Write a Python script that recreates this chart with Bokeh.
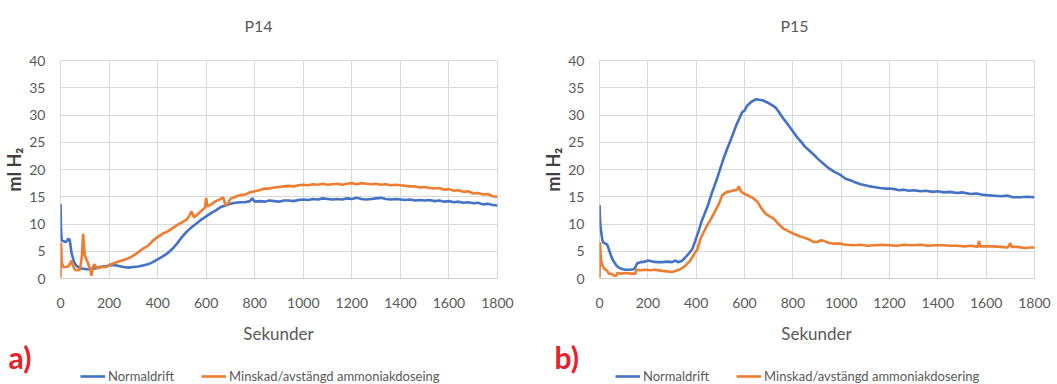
from bokeh.plotting import figure
from bokeh.models import Range1d, FixedTicker, Legend, LegendItem, Label
from bokeh.layouts import row, column
from bokeh.embed import file_html
from bokeh.resources import INLINE

# ---------------- data ----------------
x_ticks = [0, 200, 400, 600, 800, 1000, 1200, 1400, 1600, 1800]
y_ticks = [0, 5, 10, 15, 20, 25, 30, 35, 40]

series_names = ["Normaldrift", "Minskad/avstängd ammoniakdoseing", "Minskad/avstängd ammoniakdosering"]
panel_titles = ["P14", "P15"]
panel_tags = ["a)", "b)"]
x_title = "Sekunder"
y_title = "ml H\u2082"

# P14 - Normaldrift
p14_t_norm = [0, 2, 5, 10, 18, 25, 32, 38, 45, 55, 66, 80, 93, 108, 121, 135, 148, 160, 175, 190,
              200, 220, 240, 260, 280, 300, 320, 340, 360, 380, 400, 420, 440, 460, 480, 500, 520, 540, 560, 580,
              600, 620, 640, 660, 680, 700, 720, 740, 760, 780, 790,
              800, 820, 840, 860, 880, 900, 920, 940, 960, 980, 1000, 1020, 1040, 1060, 1080, 1100, 1120, 1140,
              1160, 1180, 1200, 1220, 1240, 1260, 1280, 1300, 1320, 1340, 1360, 1380, 1400, 1420, 1440, 1460,
              1480, 1500, 1520, 1540, 1560, 1580, 1600, 1620, 1640, 1660, 1680, 1700, 1720, 1740, 1760, 1780, 1800]
p14_v_norm = [13.7, 9.0, 7.0, 6.9, 6.7, 6.8, 7.3, 7.1, 4.8, 3.1, 2.3, 1.9, 1.8, 1.7, 1.7, 1.8, 1.9, 2.1, 2.2, 2.3,
              2.4, 2.5, 2.3, 2.1, 2.0, 2.1, 2.2, 2.4, 2.6, 3.0, 3.5, 4.0, 4.6, 5.4, 6.4, 7.6, 8.6, 9.4, 10.1, 10.8,
              11.4, 12.0, 12.5, 13.1, 13.4, 13.7, 13.9, 14.0, 14.0, 14.2, 14.7,
              14.1, 14.2, 14.1, 14.3, 14.2, 14.1, 14.3, 14.3, 14.2, 14.4, 14.5, 14.4, 14.6, 14.5, 14.7, 14.6, 14.5, 14.6,
              14.5, 14.7, 14.6, 14.8, 14.6, 14.5, 14.6, 14.7, 14.8, 14.6, 14.5, 14.6, 14.5, 14.4, 14.5, 14.3,
              14.4, 14.3, 14.4, 14.2, 14.3, 14.1, 14.2, 14.0, 14.1, 13.9, 14.0, 13.8, 13.9, 13.6, 13.7, 13.5, 13.4]

# P14 - Minskad/avstängd ammoniakdosering
p14_t_mins = [0, 2, 5, 11, 20, 32, 40, 45, 50, 59, 70, 80, 88, 93, 97, 100, 108, 115, 122, 128, 134, 140, 148, 155, 170, 190,
              200, 220, 240, 260, 280, 300, 320, 340, 360, 380, 400, 420, 440, 460, 480, 500, 520, 530, 540, 550, 560,
              580, 595, 600, 605, 620, 640, 660, 670, 680, 690, 700, 720, 740, 760, 780,
              800, 820, 840, 860, 880, 900, 920, 940, 960, 980, 1000, 1020, 1040, 1060, 1080, 1100, 1120, 1140,
              1160, 1180, 1200, 1220, 1240, 1260, 1280, 1300, 1320, 1340, 1360, 1380, 1400, 1420, 1440, 1460,
              1480, 1500, 1520, 1540, 1560, 1580, 1600, 1620, 1640, 1660, 1680, 1700, 1720, 1740, 1760, 1780, 1800]
p14_v_mins = [0.2, 6.6, 3.0, 2.1, 2.1, 2.2, 2.8, 3.3, 2.5, 1.6, 1.5, 1.6, 4.0, 8.2, 6.0, 4.2, 3.4, 2.6, 1.6, 0.5, 2.2, 2.6, 2.0, 1.9, 2.1, 2.1,
              2.5, 2.8, 3.1, 3.4, 3.7, 4.2, 4.8, 5.5, 6.0, 6.9, 7.6, 8.2, 8.6, 9.2, 9.8, 10.3, 10.8, 11.5, 12.3, 11.2, 11.6,
              12.4, 13.0, 14.8, 13.2, 13.6, 14.2, 14.6, 14.9, 13.4, 13.8, 14.6, 15.0, 15.3, 15.4, 15.8,
              16.0, 16.2, 16.5, 16.5, 16.7, 16.8, 16.9, 17.0, 16.9, 17.1, 17.2, 17.1, 17.3, 17.2, 17.4, 17.2, 17.3, 17.4,
              17.2, 17.4, 17.5, 17.3, 17.5, 17.4, 17.3, 17.4, 17.2, 17.3, 17.1, 17.2, 17.1, 17.0, 16.9, 16.9,
              16.7, 16.8, 16.6, 16.5, 16.6, 16.3, 16.4, 16.1, 16.2, 15.9, 16.0, 15.6, 15.7, 15.4, 15.5, 15.1, 15.0]

# P15 - Normaldrift
p15_t_norm = [0, 3, 8, 12, 18, 25, 32, 40, 46, 52, 59, 70, 80, 95, 108, 125, 142, 150, 156, 170,
              190, 200, 220, 240, 260, 280, 300, 315, 325, 340, 356, 370, 384, 397, 410, 425, 446, 465, 487, 500,
              514, 530, 549, 565, 583, 590, 600, 611, 625, 639, 650, 660, 675, 694, 710, 728, 740, 749, 765, 784,
              800, 816, 832, 850, 870, 887, 905, 928, 950, 970, 997, 1018, 1040, 1060, 1080, 1100, 1120, 1135, 1160, 1180,
              1200, 1221, 1240, 1260, 1280, 1300, 1330, 1350, 1380, 1400, 1425, 1450, 1480, 1500, 1535, 1560, 1580, 1600,
              1629, 1660, 1690, 1710, 1740, 1770, 1800]
p15_v_norm = [13.5, 10.0, 8.2, 7.0, 6.5, 6.4, 6.2, 5.2, 4.4, 3.7, 3.1, 2.4, 2.0, 1.7, 1.6, 1.6, 1.7, 2.2, 2.8, 3.0,
              3.1, 3.3, 3.1, 3.0, 3.0, 3.1, 3.0, 3.3, 3.0, 3.2, 3.9, 4.6, 5.4, 7.0, 8.7, 10.8, 13.1, 15.7, 18.4, 20.2,
              22.1, 24.0, 26.1, 28.0, 29.8, 30.5, 30.8, 31.7, 32.3, 32.7, 32.9, 32.8, 32.7, 32.3, 31.9, 31.4, 30.7, 30.1, 29.1, 28.0,
              27.0, 26.0, 25.2, 24.2, 23.4, 22.7, 21.9, 21.0, 20.2, 19.6, 19.0, 18.3, 18.0, 17.6, 17.3, 17.1, 16.9, 16.8, 16.6, 16.5,
              16.5, 16.4, 16.2, 16.3, 16.1, 16.2, 16.0, 16.1, 15.9, 16.0, 15.8, 15.9, 15.7, 15.8, 15.5, 15.6, 15.4, 15.3,
              15.2, 15.1, 15.2, 14.9, 14.9, 15.0, 14.9]

# P15 - Minskad/avstängd ammoniakdosering
p15_t_mins = [0, 2, 5, 8, 12, 18, 25, 32, 39, 53, 60, 70, 73, 90, 110, 130, 149, 152, 170, 190,
              210, 230, 259, 280, 301, 315, 329, 345, 356, 370, 384, 397, 404, 418, 430, 446, 462, 480, 495, 508,
              528, 545, 556, 570, 577, 585, 597, 612, 625, 640, 653, 670, 687, 704, 721, 740, 763, 785, 804, 825,
              846, 870, 885, 901, 915, 928, 950, 970, 997, 1018, 1050, 1080, 1110, 1140, 1170, 1200, 1230, 1260, 1290, 1330,
              1360, 1390, 1425, 1450, 1480, 1510, 1540, 1565, 1570, 1575, 1600, 1629, 1660, 1690, 1700, 1705, 1730, 1760, 1780, 1800]
p15_v_mins = [0.2, 6.7, 4.0, 3.0, 2.4, 1.9, 1.6, 1.4, 0.9, 0.8, 0.5, 0.5, 1.0, 0.9, 1.0, 0.9, 0.9, 1.6, 1.5, 1.6,
              1.5, 1.6, 1.4, 1.3, 1.2, 1.4, 1.6, 2.0, 2.4, 3.0, 3.9, 4.9, 5.2, 7.3, 8.4, 9.8, 11.0, 12.5, 13.8, 15.3,
              15.9, 16.0, 16.2, 16.3, 16.9, 16.0, 15.6, 15.3, 15.0, 14.6, 14.1, 12.9, 11.9, 11.4, 11.0, 10.0, 9.1, 8.6, 8.2, 7.8,
              7.5, 7.1, 6.7, 6.7, 7.0, 6.9, 6.5, 6.4, 6.4, 6.2, 6.1, 6.2, 6.0, 6.1, 6.2, 6.1, 6.0, 6.2, 6.1, 6.2,
              6.0, 6.1, 6.1, 6.0, 6.0, 5.9, 6.0, 5.8, 6.9, 5.9, 5.9, 5.9, 5.8, 5.7, 6.5, 5.8, 5.8, 5.6, 5.7, 5.7]

# ---------------- style ----------------
FONT = "Lato"
BLUE = "#4472c4"
ORANGE = "#ed7d31"
GRID = "#d9d9d9"
TXT = "#595959"
RED = "#e6212b"
W_TOTAL = 1057
H_HEAD = 44
H_MAIN = 272
H_FOOT = 68
NAN = float("nan")


def strip(height):
    f = figure(width=W_TOTAL, height=height, x_range=Range1d(0, W_TOTAL), y_range=Range1d(0, height),
               output_backend="svg", toolbar_location=None, x_axis_type=None, y_axis_type=None,
               min_border=0, min_border_left=0, min_border_right=0, min_border_top=0, min_border_bottom=0)
    f.outline_line_color = None
    f.background_fill_color = "white"
    f.border_fill_color = "white"
    return f


def make_panel(t1, v1, t2, v2, width, bl, br):
    p = figure(width=width, height=H_MAIN, x_range=Range1d(0, 1800), y_range=Range1d(0, 40),
               output_backend="svg", toolbar_location=None,
               min_border_left=bl, min_border_right=br, min_border_top=16, min_border_bottom=38)
    p.outline_line_color = GRID
    p.background_fill_color = "white"
    p.border_fill_color = "white"

    p.xaxis.ticker = FixedTicker(ticks=x_ticks)
    p.yaxis.ticker = FixedTicker(ticks=y_ticks)
    p.xgrid.grid_line_color = GRID
    p.ygrid.grid_line_color = GRID

    for ax in (p.xaxis[0], p.yaxis[0]):
        ax.major_tick_in = 0
        ax.major_tick_out = 0
        ax.minor_tick_in = 0
        ax.minor_tick_out = 0
        ax.major_label_text_font = FONT
        ax.major_label_text_font_size = "14px"
        ax.major_label_text_color = TXT
    p.xaxis.major_label_standoff = 19
    p.yaxis.major_label_standoff = 15

    p.xaxis.axis_line_color = "#cfcfcf"
    p.yaxis.axis_line_color = None

    p.yaxis.axis_label = y_title
    p.yaxis.axis_label_text_font = FONT
    p.yaxis.axis_label_text_font_size = "18px"
    p.yaxis.axis_label_text_font_style = "bold"
    p.yaxis.axis_label_text_color = "#404040"
    p.yaxis.axis_label_standoff = 1

    p.line(t1, v1, color=BLUE, line_width=2.6)
    p.line(t2, v2, color=ORANGE, line_width=2.6)
    return p


p1 = make_panel(p14_t_norm, p14_v_norm, p14_t_mins, p14_v_mins, width=527, bl=60, br=30)
p2 = make_panel(p15_t_norm, p15_v_norm, p15_t_mins, p15_v_mins, width=530, bl=72, br=23)

# header strip with the panel titles
head = strip(H_HEAD)
for txt, cx in zip(panel_titles, [258, 794]):
    head.add_layout(Label(x=cx, y=H_HEAD - 25, x_units="screen", y_units="screen", text=txt,
                          text_align="center", text_baseline="middle", text_font=FONT,
                          text_font_size="16px", text_color=TXT))

# footer strip: x axis titles, panel tags and legends
foot = strip(H_FOOT)
for cx in [278, 816]:
    foot.add_layout(Label(x=cx, y=51, x_units="screen", y_units="screen", text=x_title,
                          text_align="center", text_baseline="middle", text_font=FONT,
                          text_font_size="17px", text_color=TXT))
k1 = foot.line(x=[NAN], y=[NAN], color=BLUE, line_width=2.6)
k2 = foot.line(x=[NAN], y=[NAN], color=ORANGE, line_width=2.6)
for lbl2, lx in zip([series_names[1], series_names[2]], [80, 615]):
    lg = Legend(items=[LegendItem(label=series_names[0], renderers=[k1]),
                       LegendItem(label=lbl2, renderers=[k2])],
                orientation="horizontal", location=(lx, 0),
                border_line_color=None, background_fill_alpha=0,
                padding=0, margin=0, spacing=27, label_standoff=3,
                glyph_width=25, glyph_height=16, label_height=16,
                label_text_font=FONT, label_text_font_size="13px", label_text_color=TXT)
    foot.add_layout(lg)
for tag, tx in zip(panel_tags, [8, 554]):
    foot.add_layout(Label(x=tx, y=28, x_units="screen", y_units="screen", text=tag,
                          text_align="left", text_baseline="alphabetic", text_font=FONT,
                          text_font_size="30px", text_font_style="bold", text_color=RED))

layout = column(head, row(p1, p2), foot)
open("out.html", "w").write(file_html(layout, INLINE))
